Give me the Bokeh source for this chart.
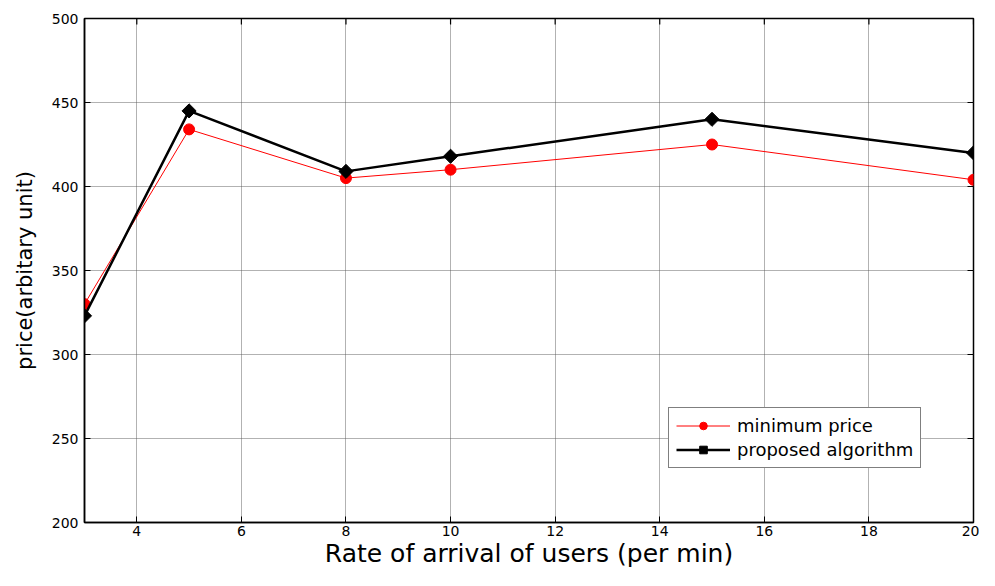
import math
from bokeh.plotting import figure
from bokeh.models import Range1d, FixedTicker, Legend, LegendItem
from bokeh.embed import file_html
from bokeh.resources import INLINE

# data
rate = [3, 5, 8, 10, 15, 20]
min_price = [330, 434, 405, 410, 425, 404]
proposed = [323, 445, 409, 418, 440, 420]
x_ticks = [4, 6, 8, 10, 12, 14, 16, 18, 20]
y_ticks = [200, 250, 300, 350, 400, 450, 500]
x_lo, x_hi = 3, 20
y_lo, y_hi = 200, 500

FONT = "DejaVu Sans"

p = figure(width=979, height=570, output_backend="svg", toolbar_location=None,
           x_range=Range1d(x_lo, x_hi), y_range=Range1d(y_lo, y_hi),
           min_border_left=84, min_border_top=18, min_border_right=6, min_border_bottom=40)
p.background_fill_color = "white"
p.border_fill_color = "white"
p.outline_line_color = "black"
p.outline_line_width = 1.5

for ax, ticks in ((p.xaxis[0], x_ticks), (p.yaxis[0], y_ticks)):
    ax.ticker = FixedTicker(ticks=ticks)
    ax.axis_line_color = "black"
    ax.axis_line_width = 1.5
    ax.major_tick_in = 6
    ax.major_tick_out = 0
    ax.major_tick_line_color = "black"
    ax.minor_tick_line_color = None
    ax.major_label_text_font = FONT
    ax.major_label_text_font_size = "14px"
    ax.major_label_text_color = "black"
    ax.axis_label_text_font = FONT
    ax.axis_label_text_font_style = "normal"
    ax.axis_label_text_color = "black"

p.xaxis.axis_label = "Rate of arrival of users (per min)"
p.xaxis.axis_label_text_font_size = "25px"
p.xaxis.axis_label_standoff = 0
p.xaxis.major_label_standoff = 3
p.yaxis.axis_label = "price(arbitary unit)"
p.yaxis.axis_label_text_font_size = "21px"
p.yaxis.axis_label_standoff = 12
p.yaxis.major_label_standoff = 6

p.xgrid.ticker = FixedTicker(ticks=x_ticks)
p.ygrid.ticker = FixedTicker(ticks=y_ticks)
for g in (p.xgrid[0], p.ygrid[0]):
    g.grid_line_color = "#555555"
    g.grid_line_dash = "1 1"
    g.grid_line_width = 1
    g.grid_line_alpha = 0.9

# mirrored inward ticks on the top and right edges (clipped to the frame)
p.scatter([x_hi] * len(y_ticks), y_ticks, marker="dash", size=12, line_color="black", line_width=1.2)
p.scatter(x_ticks, [y_hi] * len(x_ticks), marker="dash", angle=math.pi / 2, size=12,
          line_color="black", line_width=1.2)

r1l = p.line(rate, min_price, line_color="red", line_width=1)
r1m = p.scatter(rate, min_price, marker="circle", size=11, fill_color="red", line_color="red")
r2l = p.line(rate, proposed, line_color="black", line_width=2.5)
r2m = p.scatter(rate, proposed, marker="square", angle=math.pi / 4, size=10,
                fill_color="black", line_color="black")

legend = Legend(items=[LegendItem(label="minimum price", renderers=[r1l, r1m]),
                       LegendItem(label="proposed algorithm", renderers=[r2l, r2m])],
                location=(584, 54), border_line_color="black", border_line_width=1,
                background_fill_color="white", background_fill_alpha=1,
                label_text_font=FONT, label_text_font_size="18px", label_text_color="black",
                glyph_width=54, glyph_height=19, spacing=3, padding=7,
                label_standoff=7, margin=0, label_height=19)
p.add_layout(legend)

open("out.html", "w").write(file_html(p, INLINE))
